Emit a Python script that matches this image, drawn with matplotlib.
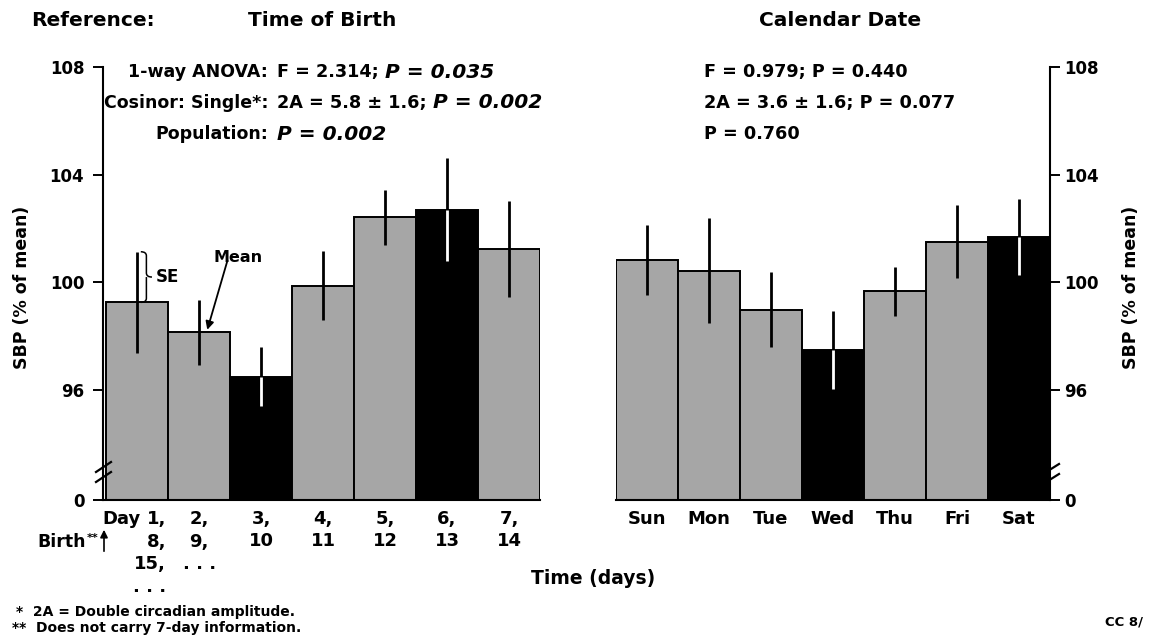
import numpy as np
import matplotlib
matplotlib.use('Agg')
import matplotlib.pyplot as plt
from matplotlib.patches import FancyArrowPatch, PathPatch
from matplotlib.path import Path
from matplotlib.transforms import blended_transform_factory

plt.rcParams['font.family'] = ['DejaVu Sans']
plt.rcParams['font.weight'] = 'bold'

W, H = 1149, 637

# SBP by day counted from birth (7-day cycle of days of age)
birth_means = [99.25, 98.13, 96.48, 99.87, 102.42, 102.70, 101.24]
birth_se = [1.88, 1.20, 1.10, 1.27, 1.02, 1.92, 1.78]
birth_labels = [['1,', '8,', '15,', '. . .'], ['2,', '9,', '. . .'], ['3,', '10'],
                ['4,', '11'], ['5,', '12'], ['6,', '13'], ['7,', '14']]

# SBP by calendar weekday
cal_days = ['Sun', 'Mon', 'Tue', 'Wed', 'Thu', 'Fri', 'Sat']
cal_means = [100.84, 100.43, 98.98, 97.48, 99.66, 101.51, 101.68]
cal_se = [1.30, 1.95, 1.40, 1.45, 0.90, 1.37, 1.40]

y_ticks = [96, 100, 104, 108]
y_floor = 91.9  # broken axis: this level is labelled 0

birth_stats = [('1-way ANOVA:', [('F = 2.314; ', False), ('P = 0.035', True)]),
               ('Cosinor: Single*:', [('2A = 5.8 \u00b1 1.6; ', False), ('P = 0.002', True)]),
               ('Population:', [('P = 0.002', True)])]
cal_stats = ['F = 0.979; P = 0.440', '2A = 3.6 \u00b1 1.6; P = 0.077', 'P = 0.760']

GRAY = '#a6a6a6'

fig = plt.figure(figsize=(W / 100, H / 100), dpi=100)


def px(x, y):
    return x / W, 1 - y / H


def panel(rect, means, se, side):
    ax = fig.add_axes(rect)
    means = np.array(means)
    se = np.array(se)
    x = np.arange(len(means))
    # lowest and highest days are drawn in black
    dark = np.zeros(len(means), bool)
    dark[[means.argmin(), means.argmax()]] = True
    colors = np.where(dark, 'black', GRAY)
    ax.bar(x, means - y_floor, bottom=y_floor, width=1.0, color=colors,
           edgecolor='black', linewidth=1.4, zorder=2)
    ax.vlines(x, means, means + se, color='black', lw=2.0, zorder=3)
    ax.vlines(x, means - se, means, color=np.where(dark, 'white', 'black'), lw=2.0, zorder=3)

    ax.set_ylim(y_floor, 108)
    ax.set_yticks([y_floor] + y_ticks)
    ax.set_yticklabels(['0'] + [str(t) for t in y_ticks])
    for s in ['top', 'left', 'right']:
        ax.spines[s].set_visible(False)
    ax.spines[side].set_visible(True)
    for s in ['bottom', side]:
        ax.spines[s].set_linewidth(1.5)
    ax.yaxis.set_ticks_position(side)
    ax.tick_params(axis='y', length=7.5, width=1.4, labelsize=12,
                   pad=6 if side == 'left' else 3)
    ax.tick_params(axis='x', length=0, labelsize=13, pad=7)
    return ax, means, se


axl, bm, bse = panel([103 / W, 1 - 500 / H, 437 / W, 433 / H], birth_means, birth_se, 'left')
axl.set_xlim(-0.55, 6.5)
axl.set_xticks([])

axr, _, _ = panel([616 / W, 1 - 500 / H, 434 / W, 433 / H], cal_means, cal_se, 'right')
axr.set_xlim(-0.5, 6.5)
axr.set_xticks(range(7))
axr.set_xticklabels(cal_days)

# day-of-age labels under the left bars, one text per row
tr = blended_transform_factory(axl.transData, fig.transFigure)
for i, col in enumerate(birth_labels):
    for k, s in enumerate(col):
        yy = 1 - (519 + 22.5 * k) / H
        if i == 0:
            axl.text(i + 0.47, yy, s, transform=tr, fontsize=13, ha='right', va='center')
        else:
            axl.text(i, yy, s, transform=tr, fontsize=13, ha='center', va='center')
fig.text(*px(121, 519), 'Day', fontsize=13, ha='center', va='center')
fig.text(*px(86, 542), 'Birth', fontsize=12.5, ha='right', va='center')
fig.text(*px(87, 538), '**', fontsize=8, ha='left', va='center')
fig.add_artist(FancyArrowPatch(px(104, 554), px(104, 527), transform=fig.transFigure,
                               arrowstyle='-|>', mutation_scale=11, color='black', lw=1.2))

# axis break marks
for yy in (467, 477):
    fig.add_artist(plt.Line2D([96 / W, 111 / W], [1 - (yy + 5) / H, 1 - (yy - 5) / H],
                              color='black', lw=1.6))
    fig.add_artist(plt.Line2D([1051 / W, 1059 / W], [1 - (yy + 2) / H, 1 - (yy - 3) / H],
                              color='black', lw=1.6))

# headings
fig.text(*px(31, 20), 'Reference:', fontsize=14.5, va='center', ha='left')
fig.text(*px(322, 20), 'Time of Birth', fontsize=14.5, va='center', ha='center')
fig.text(*px(840, 20), 'Calendar Date', fontsize=14.5, va='center', ha='center')

# statistics, label right-aligned then runs of text
renderer = fig.canvas.get_renderer()
for i, (lab, parts) in enumerate(birth_stats):
    yy = 72 + 31 * i
    fig.text(*px(268, yy), lab, fontsize=12.5, ha='right', va='center')
    xx = 277
    for s, emph in parts:
        t = fig.text(*px(xx, yy), s, fontsize=14.5 if emph else 12.7, ha='left', va='center',
                     style='italic' if emph else 'normal')
        xx += t.get_window_extent(renderer).width
for i, s in enumerate(cal_stats):
    fig.text(*px(704, 72 + 31 * i), s, fontsize=12.7, ha='left', va='center')

# y labels
fig.text(*px(22, 287), 'SBP (% of mean)', fontsize=12.5, rotation=90, ha='center', va='center')
fig.text(*px(1131, 287), 'SBP (% of mean)', fontsize=12.5, rotation=90, ha='center', va='center')

# SE key: curly brace spanning the first bar's upper error bar
bx = 0.06  # data units right of the first bar's error line
top, bot = bm[0] + bse[0], bm[0]
mid = (top + bot) / 2
w = 0.09
verts = [(bx, top), (bx + w, top), (bx + w, top - 0.15),
         (bx + w, mid + 0.15), (bx + w, mid), (bx + 2 * w, mid),
         (bx + w, mid), (bx + w, mid - 0.15),
         (bx + w, bot + 0.15), (bx + w, bot), (bx, bot)]
codes = [Path.MOVETO, Path.CURVE3, Path.CURVE3, Path.LINETO, Path.CURVE3, Path.CURVE3,
         Path.MOVETO, Path.CURVE3, Path.LINETO, Path.CURVE3, Path.CURVE3]
axl.add_patch(PathPatch(Path(verts, codes), fill=False, lw=1.1, color='black', zorder=4))
axl.text(bx + 2 * w + 0.06, mid, 'SE', fontsize=12, ha='left', va='center')

# Mean key pointing at the second bar's top
fig.text(*px(238, 258), 'Mean', fontsize=11.5, ha='center', va='center')
axl.annotate('', xy=(1.12, bm[1]), xytext=(1.47, 100.9),
             arrowprops=dict(arrowstyle='-|>', mutation_scale=12, color='black', lw=1.3))

fig.text(*px(593, 578), 'Time (days)', fontsize=13.5, ha='center', va='center')

fig.text(*px(16, 612), '*  2A = Double circadian amplitude.', fontsize=10, ha='left', va='center')
fig.text(*px(12, 628), '**  Does not carry 7-day information.', fontsize=10, ha='left', va='center')
fig.text(*px(1105, 622), 'CC 8/', fontsize=9.5, ha='left', va='center')

fig.savefig('out.png', dpi=100)
